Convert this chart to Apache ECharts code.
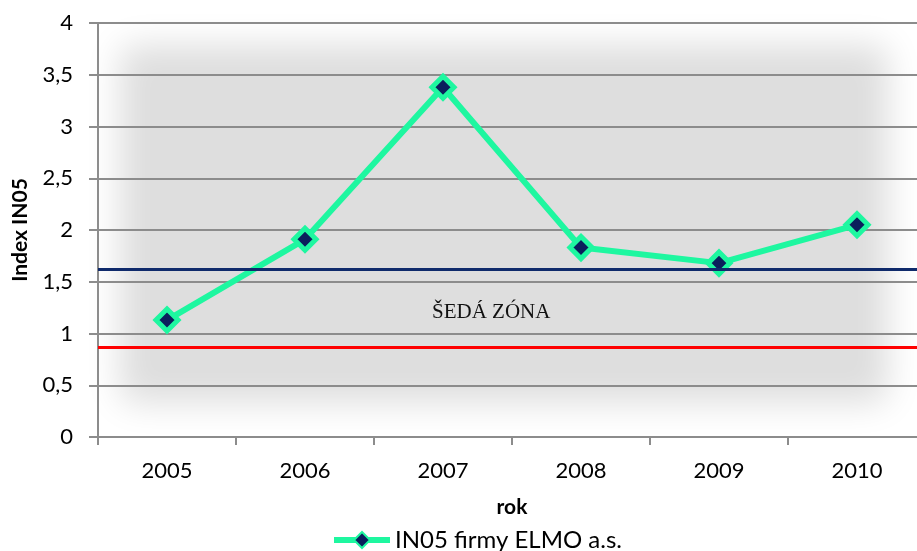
<!DOCTYPE html>
<html>
<head>
<meta charset="utf-8">
<script src="https://cdn.jsdelivr.net/npm/echarts@6/dist/echarts.min.js"></script>
<style>
  html, body { margin: 0; padding: 0; background: #ffffff; }
  #chart { width: 917px; height: 551px; }
</style>
</head>
<body>
<div id="chart"></div>
<script>
// Years on the category axis
const years = ['2005', '2006', '2007', '2008', '2009', '2010'];
// IN05 index of ELMO a.s. per year
const in05Values = [1.13, 1.91, 3.38, 1.83, 1.68, 2.05];
// Grey-zone bounds drawn as horizontal lines
const upperBound = 1.62;
const lowerBound = 0.87;
// Value-axis ticks
const yTicks = [0, 0.5, 1, 1.5, 2, 2.5, 3, 3.5, 4];

const chart = echarts.init(document.getElementById('chart'));

const font = 'Lato, "Open Sans", sans-serif';

chart.setOption({
  animation: false,
  backgroundColor: '#ffffff',
  // plot runs past the right edge of the canvas
  grid: { left: 98, top: 23, width: 828, height: 414, outerBoundsMode: 'none', containLabel: false },
  // soft grey backdrop: only the blurred shadow of an off-canvas rectangle is visible
  graphic: [{
    type: 'rect',
    z: -10,
    silent: true,
    shape: { x: 2120, y: 45, width: 768, height: 358, r: 14 },
    style: {
      fill: '#dedede',
      shadowColor: '#dedede',
      shadowBlur: 34,
      shadowOffsetX: -2000,
      shadowOffsetY: 0
    }
  }, {
    type: 'text',
    z: 5,
    silent: true,
    left: 432, top: 302,
    style: {
      text: 'ŠEDÁ ZÓNA',
      font: '21px "Liberation Serif", "DejaVu Serif", serif',
      fill: '#111111'
    }
  }],
  legend: {
    bottom: -6,
    left: 326,
    itemWidth: 56,
    itemHeight: 20,
    itemGap: 6,
    lineStyle: { width: 6 },
    textStyle: { fontFamily: font, fontSize: 24, color: '#000000' },
    data: ['IN05 firmy ELMO a.s.']
  },
  xAxis: {
    type: 'category',
    data: years,
    boundaryGap: true,
    name: 'rok',
    nameLocation: 'middle',
    nameGap: 60,
    nameTextStyle: { fontFamily: font, fontSize: 21, fontWeight: 'bold', color: '#000000' },
    axisLine: { lineStyle: { color: '#8c8c8c', width: 2 } },
    axisTick: { show: true, alignWithLabel: false, length: 8, lineStyle: { color: '#8c8c8c', width: 2 } },
    axisLabel: { fontFamily: font, fontSize: 22, color: '#000000', margin: 23 },
    splitLine: { show: false }
  },
  yAxis: {
    type: 'value',
    min: yTicks[0],
    max: yTicks[yTicks.length - 1],
    interval: 0.5,
    name: 'Index IN05',
    nameLocation: 'middle',
    nameGap: 67,
    nameRotate: 90,
    nameTextStyle: { fontFamily: font, fontSize: 21, fontWeight: 'bold', color: '#000000' },
    axisLine: { show: true, lineStyle: { color: '#8c8c8c', width: 2 } },
    axisTick: { show: true, length: 9, inside: false, lineStyle: { color: '#8c8c8c', width: 2 } },
    axisLabel: {
      fontFamily: font, fontSize: 22, color: '#000000', margin: 25,
      formatter: v => String(v).replace('.', ',')
    },
    splitLine: { show: true, lineStyle: { color: '#8c8c8c', width: 2 } }
  },
  series: [{
    name: 'IN05 firmy ELMO a.s.',
    type: 'line',
    data: in05Values,
    z: 4,
    symbol: 'diamond',
    symbolSize: 22,
    lineStyle: { color: '#1ef7a0', width: 6 },
    itemStyle: { color: '#0b1f5c', borderColor: '#1ef7a0', borderWidth: 5 },
    markLine: {
      silent: true,
      symbol: ['none', 'none'],
      label: { show: false },
      data: [
        { yAxis: upperBound, lineStyle: { color: '#0f2a6b', width: 3, type: 'solid' } },
        { yAxis: lowerBound, lineStyle: { color: '#ff0000', width: 3, type: 'solid' } }
      ]
    }
  }]
});
</script>
</body>
</html>
